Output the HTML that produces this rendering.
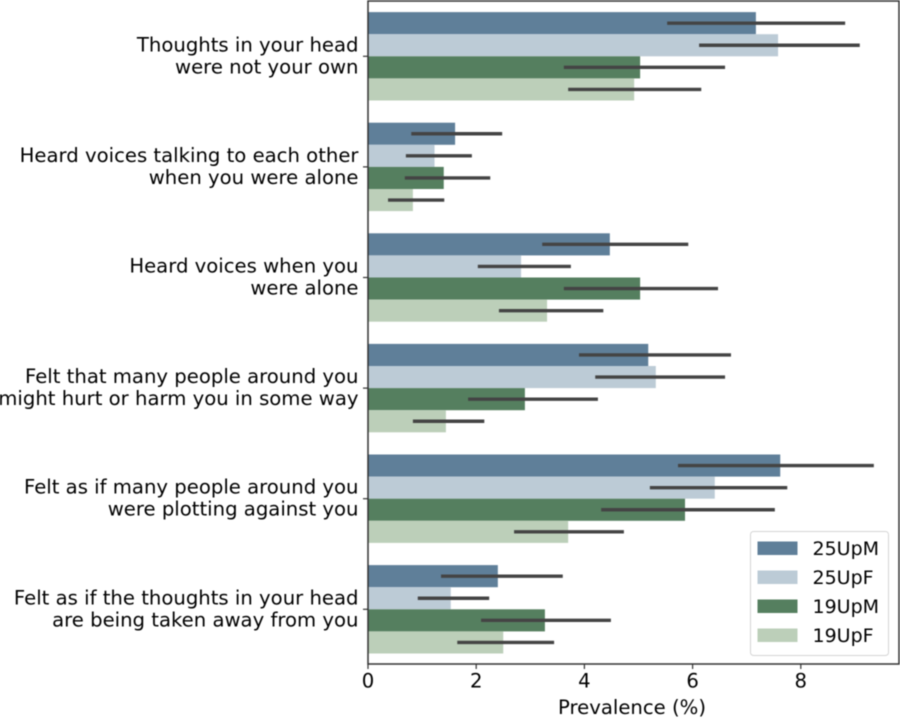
<!DOCTYPE html>
<html>
<head>
<meta charset="utf-8">
<title>Prevalence chart</title>
<style>
html,body{margin:0;padding:0;background:#fff;width:900px;height:719px;overflow:hidden}
svg{display:block;filter:blur(0.4px)}
text{font-family:"DejaVu Sans","Liberation Sans",sans-serif;fill:#000000}
</style>
</head>
<body>
<svg id="chart" width="900" height="719" viewBox="0 0 900 719" xmlns="http://www.w3.org/2000/svg"></svg>
<script>
const categories = [
  ["Thoughts in your head", "were not your own"],
  ["Heard voices talking to each other", "when you were alone"],
  ["Heard voices when you", "were alone"],
  ["Felt that many people around you", "might hurt or harm you in some way"],
  ["Felt as if many people around you", "were plotting against you"],
  ["Felt as if the thoughts in your head", "are being taken away from you"]
];
const seriesNames = ["25UpM", "25UpF", "19UpM", "19UpF"];
const seriesColors = ["#5f7f99", "#bccbd6", "#557f5f", "#bccfb9"];
const values25UpM = [7.17, 1.61, 4.47, 5.18, 7.62, 2.40];
const values25UpF = [7.58, 1.23, 2.83, 5.32, 6.41, 1.53];
const values19UpM = [5.03, 1.40, 5.03, 2.90, 5.86, 3.27];
const values19UpF = [4.92, 0.83, 3.31, 1.44, 3.70, 2.50];
const low25UpM = [5.53, 0.80, 3.22, 3.90, 5.73, 1.35];
const high25UpM = [8.82, 2.48, 5.92, 6.71, 9.35, 3.60];
const low25UpF = [6.12, 0.70, 2.03, 4.20, 5.21, 0.92];
const high25UpF = [9.09, 1.92, 3.75, 6.60, 7.75, 2.24];
const low19UpM = [3.62, 0.68, 3.62, 1.85, 4.31, 2.09];
const high19UpM = [6.60, 2.26, 6.47, 4.25, 7.52, 4.49];
const low19UpF = [3.70, 0.37, 2.42, 0.83, 2.70, 1.65];
const high19UpF = [6.16, 1.41, 4.35, 2.15, 4.73, 3.44];
const xTicks = [0, 2, 4, 6, 8];
const xLabel = "Prevalence (%)";

const seriesValues = [values25UpM, values25UpF, values19UpM, values19UpF];
const seriesLow = [low25UpM, low25UpF, low19UpM, low19UpF];
const seriesHigh = [high25UpM, high25UpF, high19UpM, high19UpF];

const svg = document.getElementById('chart');
const NS = 'http://www.w3.org/2000/svg';
const plot = {left: 368, right: 899, top: 1, bottom: 664};
const pxPerUnit = 54.1;
const groupStep = 110.6;
const firstCenter = 56.3;
const barHeight = 22.1;
const labelFont = 19.65;
const legendFont = 19;

function xScale(v) { return plot.left + v * pxPerUnit; }
function yCenter(i) { return firstCenter + i * groupStep; }
function barTop(i, s) { return yCenter(i) + (s - 2) * barHeight; }

function make(tag, attrs, parent) {
  const el = document.createElementNS(NS, tag);
  for (const k in attrs) el.setAttribute(k, attrs[k]);
  (parent || svg).appendChild(el);
  return el;
}

// bars
seriesValues.forEach(function (vals, s) {
  vals.forEach(function (v, i) {
    const r = make('rect', {x: xScale(0), y: barTop(i, s), width: xScale(v) - xScale(0), height: barHeight, fill: seriesColors[s]});
    
    
  });
});

// error bars
seriesValues.forEach(function (vals, s) {
  vals.forEach(function (v, i) {
    const y = barTop(i, s) + barHeight / 2;
    const l = make('line', {x1: xScale(seriesLow[s][i]), x2: xScale(seriesHigh[s][i]), y1: y, y2: y, stroke: '#444444', 'stroke-width': 3.4});
    
    
  });
});

// spines
const frame = make('rect', {x: plot.left, y: plot.top, width: plot.right - plot.left, height: plot.bottom - plot.top, fill: 'none', stroke: '#333333', 'stroke-width': 1.5});



// y ticks and labels
categories.forEach(function (lines, i) {
  const y = yCenter(i);
  const t = make('line', {x1: plot.left - 5, x2: plot.left, y1: y, y2: y, stroke: '#333333', 'stroke-width': 1.2});
  
  
  const label = make('text', {x: 358.5, y: y - 5, 'text-anchor': 'end', 'font-size': labelFont});
  
  
  lines.forEach(function (line, n) {
    const ts = make('tspan', {x: 358.5, dy: n === 0 ? 0 : 22}, label);
    ts.textContent = line;
  });
});

// x ticks and labels
xTicks.forEach(function (v) {
  const x = xScale(v);
  const t = make('line', {x1: x, x2: x, y1: plot.bottom, y2: plot.bottom + 5, stroke: '#333333', 'stroke-width': 1.2});
  
  
  const label = make('text', {x: x, y: 687.5, 'text-anchor': 'middle', 'font-size': labelFont});
  
  
  label.textContent = String(v);
});

const xTitle = make('text', {x: 632, y: 714, 'text-anchor': 'middle', 'font-size': labelFont});


xTitle.textContent = xLabel;

// legend
const legendBox = make('rect', {x: 750.5, y: 531.5, width: 138, height: 124, rx: 3, fill: '#ffffff', 'fill-opacity': 0.9, stroke: '#d5d5d5', 'stroke-width': 1});


seriesNames.forEach(function (name, s) {
  const y = 541.5 + s * 29;
  const swatch = make('rect', {x: 757.5, y: y, width: 40, height: 13.5, fill: seriesColors[s]});
  
  
  const label = make('text', {x: 812.5, y: y + 13.5, 'font-size': legendFont});
  
  
  label.textContent = name;
});
</script>
</body>
</html>
